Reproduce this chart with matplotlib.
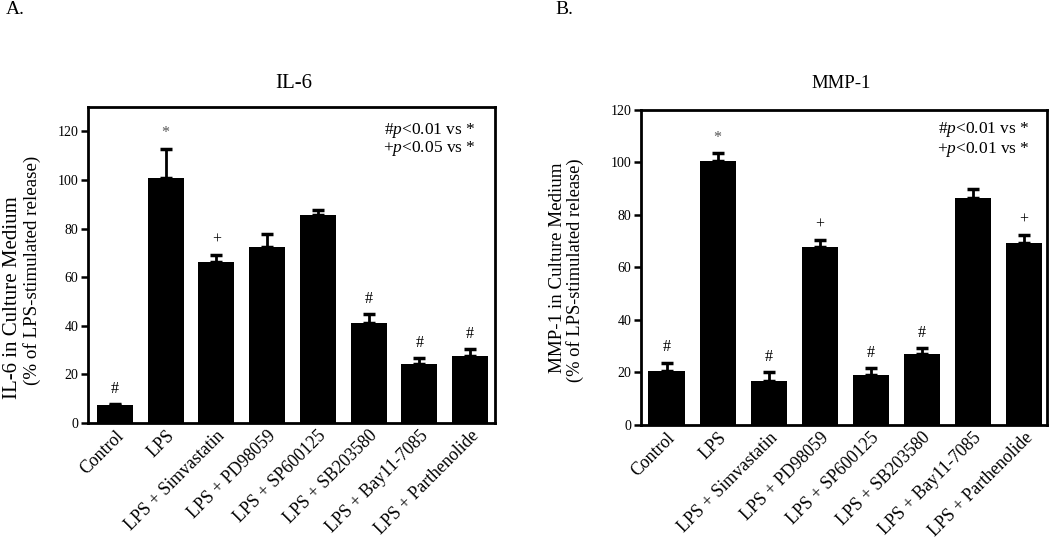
import matplotlib.pyplot as plt
import numpy as np

plt.rcParams['font.family'] = ['Liberation Serif', 'DejaVu Serif']
plt.rcParams['mathtext.fontset'] = 'custom'
plt.rcParams['mathtext.rm'] = 'Liberation Serif'
plt.rcParams['mathtext.it'] = 'Liberation Serif:italic'

categories = ['Control', 'LPS', 'LPS + Simvastatin', 'LPS + PD98059',
              'LPS + SP600125', 'LPS + SB203580', 'LPS + Bay11-7085',
              'LPS + Parthenolide']

il6_mean = [7.5, 100.7, 66.4, 72.6, 85.6, 41.1, 24.2, 27.7]
il6_err = [0.3, 12.2, 2.6, 5.1, 1.9, 3.7, 2.5, 2.7]
il6_marks = ['#', '*', '+', '', '', '#', '#', '#']

mmp1_mean = [20.7, 100.4, 16.9, 67.7, 19.1, 27.0, 86.4, 69.5]
mmp1_err = [3.1, 3.2, 3.2, 2.8, 2.5, 2.2, 3.4, 2.9]
mmp1_marks = ['#', '*', '#', '+', '#', '#', '', '+']

W, H = 1050, 545


def px(x, y):
    return x / W, 1 - y / H


def panel(ax, means, errs, marks, ylim, xlim, notes, note_x, note_y):
    x = np.arange(len(categories))
    ax.bar(x, means, width=0.71, color='black', zorder=2)
    ax.errorbar(x, means, yerr=[np.zeros(len(errs)), errs], fmt='none',
                ecolor='black', elinewidth=2, capsize=4, capthick=2.5, zorder=3)
    for xi, m, e, s in zip(x, means, errs, marks):
        if s:
            ax.annotate(s, (xi, m + e), xytext=(0, 11), textcoords='offset points',
                        ha='center', va='center', fontsize=11.5,
                        color='#555555' if s == '*' else 'black')
    ax.set_xlim(*xlim)
    ax.set_ylim(*ylim)
    ax.set_yticks(np.arange(0, 121, 20))
    ax.set_xticks(x)
    ax.set_xticklabels(categories, rotation=45, ha='right', rotation_mode='anchor',
                       fontsize=12.8)
    ax.tick_params(axis='x', length=0, pad=3)
    ax.tick_params(axis='y', length=5, width=1.8, labelsize=10, pad=2)
    for sp in ax.spines.values():
        sp.set_linewidth(2)
    for line, ny in zip(notes, note_y):
        ax.text(note_x, ny, line, transform=ax.transAxes, ha='right',
                va='center', fontsize=12.5)


fig = plt.figure(figsize=(10.5, 5.45), dpi=100)
axA = fig.add_axes([0.0838, 0.2239, 0.3876, 0.5798])
axB = fig.add_axes([0.6105, 0.2202, 0.3867, 0.5780])

panel(axA, il6_mean, il6_err, il6_marks, (0, 130), (-0.53, 7.49),
      ['#$p$<0.01 vs *', '+$p$<0.05 vs *'], 0.952, [0.927, 0.870])
panel(axB, mmp1_mean, mmp1_err, mmp1_marks, (0, 120), (-0.5, 7.45),
      ['#$p$<0.01 vs *', '+$p$<0.01 vs *'], 0.958, [0.937, 0.876])

# titles
fig.text(*px(294, 84), 'IL-6', fontsize=15, ha='center', va='center')
fig.text(*px(841, 84), 'MMP-1', fontsize=13.5, ha='center', va='center')

# y labels (two lines)
fig.text(*px(13, 298), 'IL-6 in Culture Medium', fontsize=15, rotation=90,
         ha='center', va='center')
fig.text(*px(32, 270), '(% of LPS-stimulated release)', fontsize=13.7,
         rotation=90, ha='center', va='center')
fig.text(*px(557, 268), 'MMP-1 in Culture Medium', fontsize=13.7, rotation=90,
         ha='center', va='center')
fig.text(*px(575, 270), '(% of LPS-stimulated release)', fontsize=13.3,
         rotation=90, ha='center', va='center')

# panel letters
fig.text(*px(6, 1), 'A.', fontsize=14, va='top', ha='left')
fig.text(*px(555, 1), 'B.', fontsize=14, va='top', ha='left')

fig.savefig('out.png', dpi=100)
